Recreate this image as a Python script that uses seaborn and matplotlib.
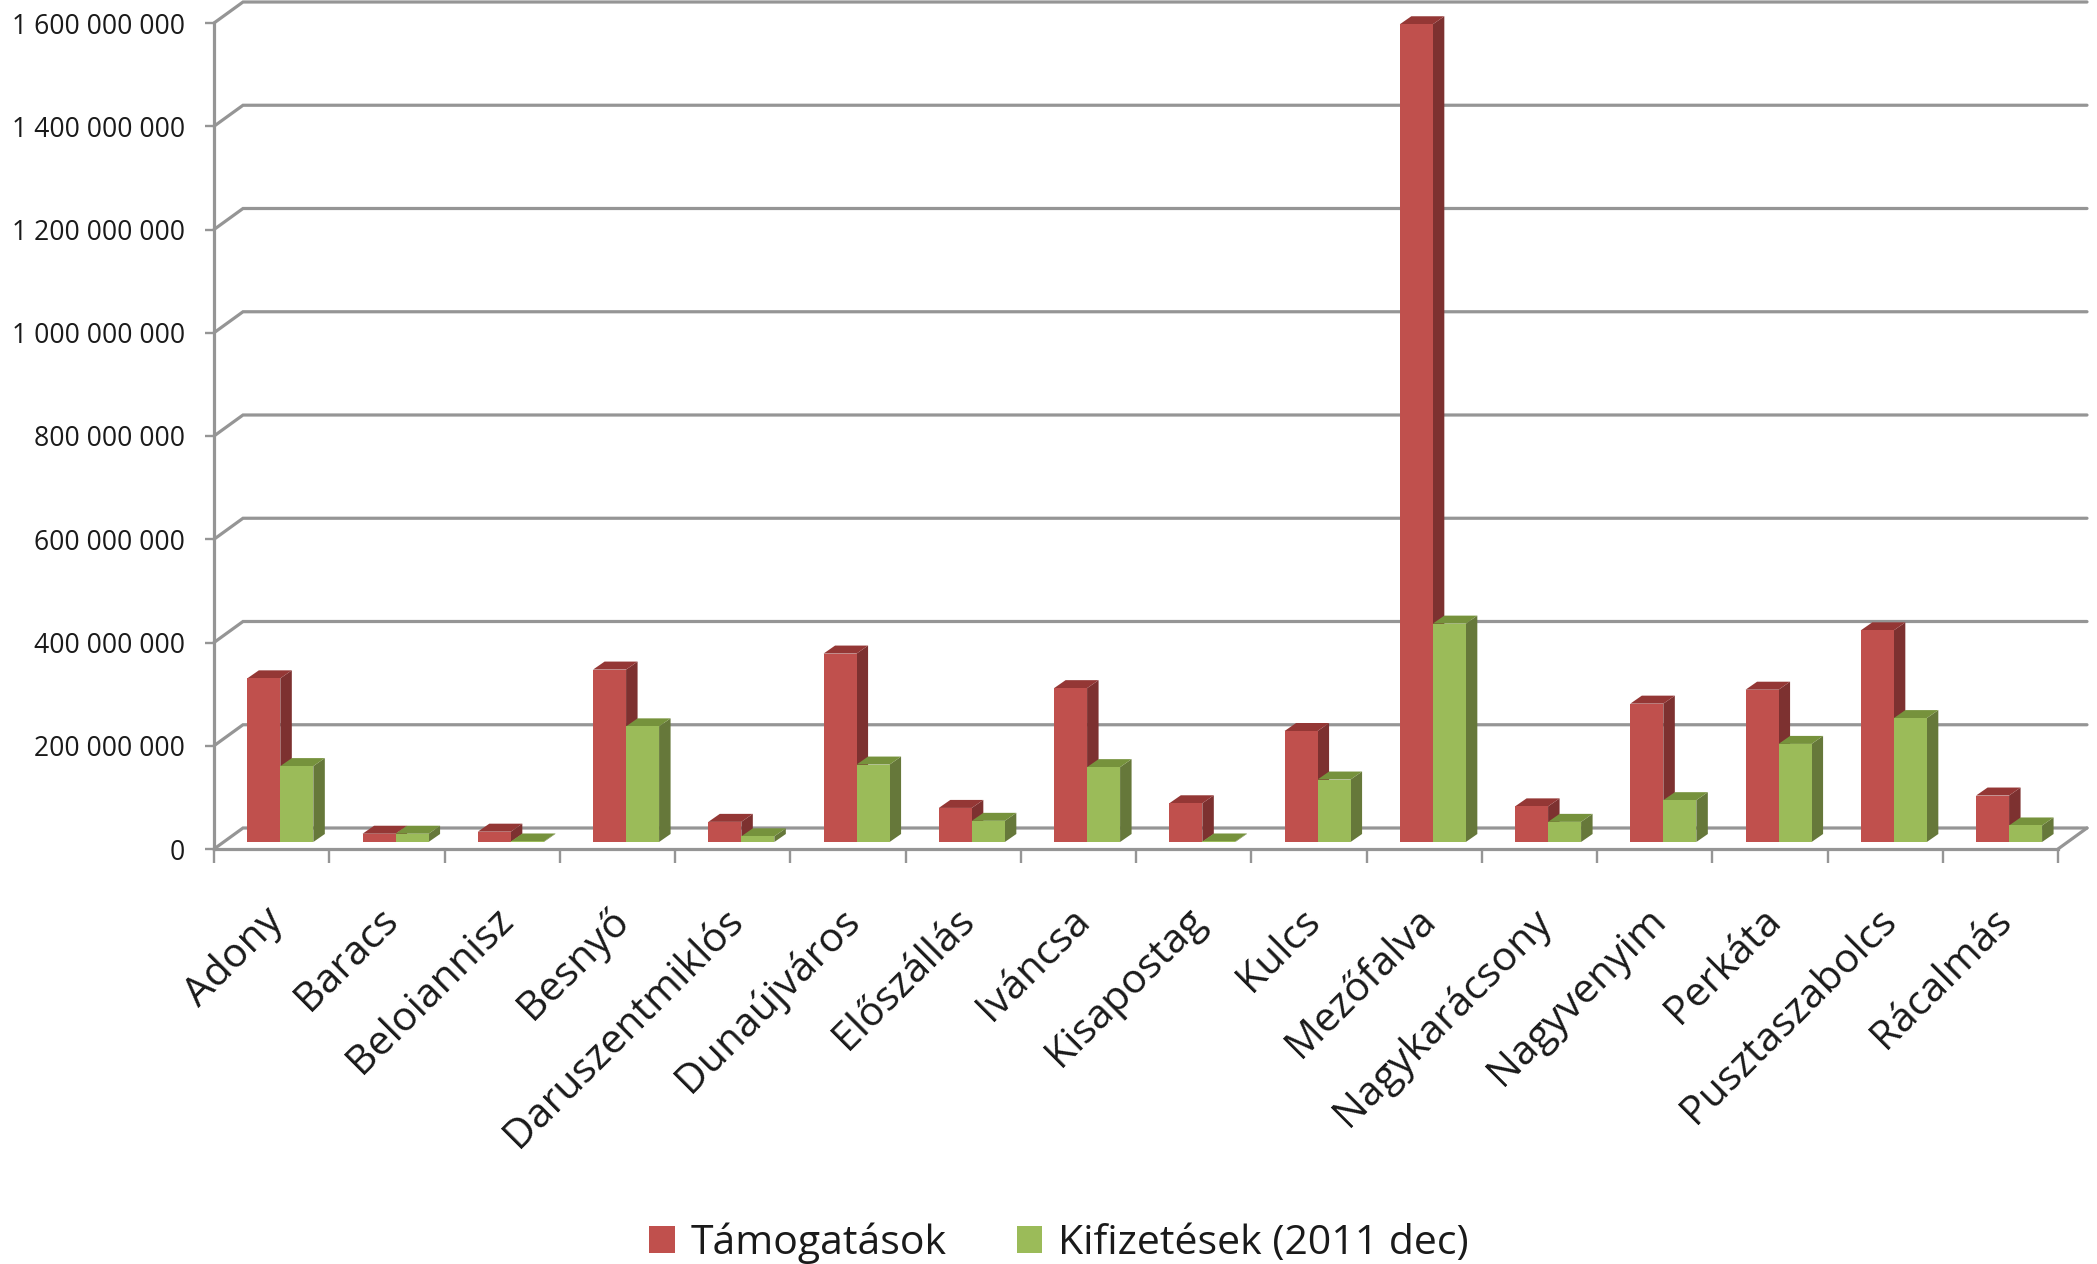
#Recreates the 3D style clustered bar chart of subsidies per settlement
#Seaborn draws the front faces, the sides and tops are added from the same bars
import pandas as pd
import matplotlib.pyplot as plt
from matplotlib.patches import Polygon
from matplotlib.transforms import ScaledTranslation
import seaborn as sns

telepulesek = ["Adony", "Baracs", "Beloiannisz", "Besnyő", "Daruszentmiklós", "Dunaújváros",
               "Előszállás", "Iváncsa", "Kisapostag", "Kulcs", "Mezőfalva", "Nagykarácsony",
               "Nagyvenyim", "Perkáta", "Pusztaszabolcs", "Rácalmás"]
tamogatasok = [317e6, 16e6, 20e6, 334e6, 39e6, 365e6, 66e6, 298e6, 75e6, 215e6, 1584e6, 69e6,
               268e6, 295e6, 410e6, 90e6]
kifizetesek = [147e6, 16e6, 1e6, 224e6, 11e6, 150e6, 41e6, 145e6, 1e6, 121e6, 423e6, 39e6,
               81e6, 190e6, 240e6, 32e6]
y_ticks = [0, 200e6, 400e6, 600e6, 800e6, 1000e6, 1200e6, 1400e6, 1600e6]
sorozatok = ["Támogatások", "Kifizetések (2011 dec)"]

front_colors = ["#C0504D", "#9BBB59"]
side_colors = ["#7D3130", "#66783A"]
top_colors = ["#943735", "#76923C"]
line_color = "#959595"
text_color = "#1A1A1A"

sns.set_theme(style="white")
plt.rcParams["font.family"] = ["Open Sans", "DejaVu Sans"]

W, H = 2097, 1264
left, right, y_zero, y_top = 214, 2058, 849, 23

fig = plt.figure(figsize=(W / 100, H / 100), dpi=100, facecolor="white")
ax = fig.add_axes([left / W, 1 - y_zero / H, (right - left) / W, (y_zero - y_top) / H])

df = pd.DataFrame({
    "telepules": telepulesek * 2,
    "ertek": tamogatasok + kifizetesek,
    "sorozat": [sorozatok[0]] * 16 + [sorozatok[1]] * 16,
})
sns.barplot(data=df, x="telepules", y="ertek", hue="sorozat", hue_order=sorozatok,
            palette=front_colors, saturation=1, width=0.5727, gap=0, linewidth=0, ax=ax, zorder=3)

ax.set_xlim(-0.5, 15.5)
ax.set_ylim(0, 1.6e9)
ax.set_xlabel("")
ax.set_ylabel("")

#pixel sizes of the fake depth turned into data units
px_x = 16 / (right - left)
px_y = 1.6e9 / (y_zero - y_top)
wall_dx, wall_dy = 29 * px_x, 21 * px_y
shift_dx, shift_dy = 8.7 * px_x, 7 * px_y
depth_dx, depth_dy = 11.5 * px_x, 8 * px_y

#Back wall grid and floor
for t in y_ticks:
    ax.plot([-0.5, -0.5 + wall_dx, 15.5 + wall_dx], [t, t + wall_dy, t + wall_dy],
            color=line_color, lw=2.3, clip_on=False, zorder=1, solid_joinstyle="miter")
ax.plot([15.5, 15.5 + wall_dx], [0, wall_dy], color=line_color, lw=2.3, clip_on=False, zorder=1)

#Move the bars onto the floor and add the sides and tops
for i, cont in enumerate(ax.containers):
    z = 3 + i
    for bar in cont:
        bar.set_x(bar.get_x() + shift_dx)
        bar.set_y(shift_dy)
        bar.set_clip_on(False)
        bar.set_zorder(z + 0.2)
        x0 = bar.get_x()
        x1 = x0 + bar.get_width()
        y0 = bar.get_y()
        y1 = y0 + bar.get_height()
        ax.add_patch(Polygon([(x1, y0), (x1 + depth_dx, y0 + depth_dy),
                              (x1 + depth_dx, y1 + depth_dy), (x1, y1)],
                             facecolor=side_colors[i], edgecolor="none", clip_on=False, zorder=z))
        ax.add_patch(Polygon([(x0, y1), (x1, y1), (x1 + depth_dx, y1 + depth_dy),
                              (x0 + depth_dx, y1 + depth_dy)],
                             facecolor=top_colors[i], edgecolor="none", clip_on=False, zorder=z + 0.1))

#Axes
sns.despine(ax=ax, top=True, right=True)
for s in ["left", "bottom"]:
    ax.spines[s].set_color(line_color)
    ax.spines[s].set_linewidth(2.3)
    ax.spines[s].set_zorder(2)

ax.set_yticks(y_ticks)
ax.set_yticklabels([f"{int(t):,}".replace(",", " ") for t in y_ticks])
ax.tick_params(axis="y", length=6.5, width=1.7, color=line_color, labelsize=19.1,
               labelcolor=text_color, pad=14.5, left=True)
ax.set_xticks(range(16))
ax.set_xticks([i - 0.5 for i in range(17)], minor=True)
ax.tick_params(axis="x", which="major", length=0, pad=37, labelsize=29.5, labelcolor=text_color)
ax.tick_params(axis="x", which="minor", length=10, width=1.7, color=line_color, bottom=True)
#labels sit a bit left of the category centre
label_shift = ScaledTranslation(-9 / 100, 0, fig.dpi_scale_trans)
for lab in ax.get_xticklabels():
    lab.set_rotation(45)
    lab.set_ha("right")
    lab.set_va("top")
    lab.set_rotation_mode("anchor")
    lab.set_transform(lab.get_transform() + label_shift)

#Legend
handles, labels = ax.get_legend_handles_labels()
ax.legend(handles, labels, ncol=2, frameon=False, loc="center", bbox_to_anchor=(1059 / W, 1 - 1243 / H),
          bbox_transform=fig.transFigure, fontsize=29.5, labelcolor=text_color, handlelength=0.62,
          handleheight=0.62, handletextpad=0.38, columnspacing=1.72, borderpad=0)

fig.savefig("out.png", dpi=100)
